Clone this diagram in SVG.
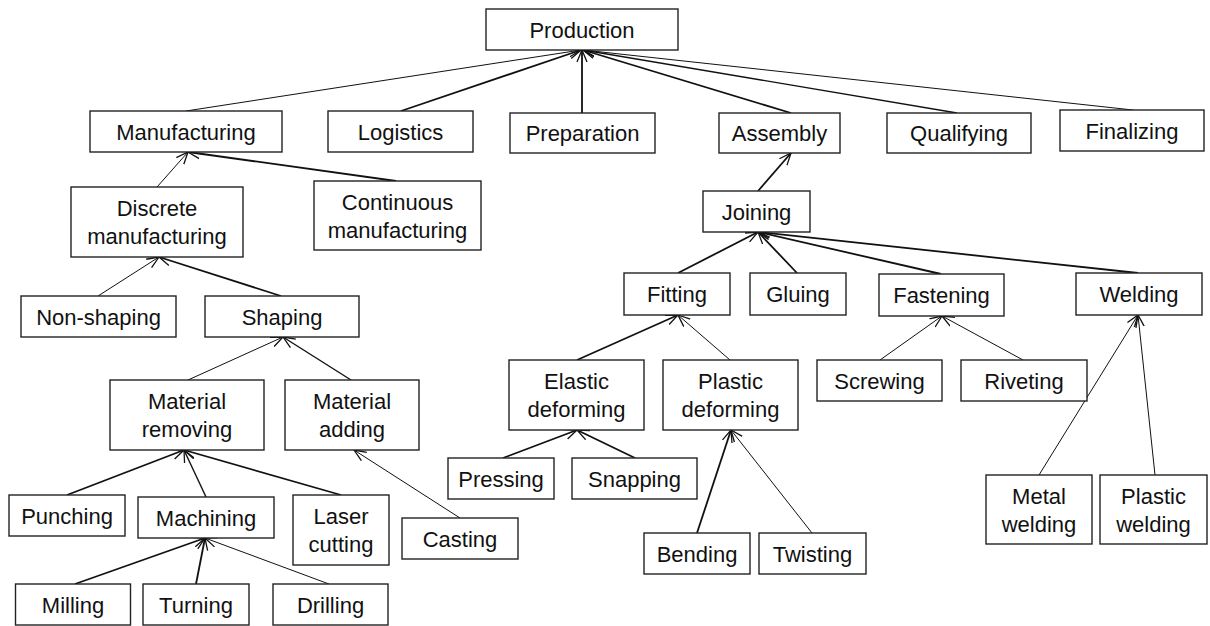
<svg xmlns="http://www.w3.org/2000/svg" width="1210" height="626" viewBox="0 0 1210 626">
  <style>
    .box rect { fill: #ffffff; stroke: #222222; stroke-width: 1.4; }
    .box text { font-family: "Liberation Sans", Arial, sans-serif; font-size: 22px; fill: #111111; text-anchor: middle; }
    .edge { fill: none; stroke: #111111; marker-end: url(#head); }
    .thin { stroke-width: 1; }
    .mid { stroke-width: 1.4; }
    .thick { stroke-width: 1.8; }
  </style>
  <defs>
    <marker id="head" markerUnits="userSpaceOnUse" markerWidth="16" markerHeight="14" refX="12" refY="6" orient="auto">
      <path d="M0,1 L12,6 L0,11" fill="none" stroke="#111111" stroke-width="1.3"/>
    </marker>
  </defs>
  <rect width="1210" height="626" fill="#ffffff"/>

  <!-- connectors: child top edge to parent bottom edge -->
  <g id="connectors">
    <line class="edge thin" x1="186" y1="111" x2="581" y2="50"/>
    <line class="edge thick" x1="401" y1="111" x2="581" y2="50"/>
    <line class="edge thick" x1="582" y1="113" x2="582" y2="50"/>
    <line class="edge thick" x1="791" y1="113" x2="583" y2="50"/>
    <line class="edge mid" x1="957" y1="113" x2="583" y2="50"/>
    <line class="edge thin" x1="1133" y1="110" x2="583" y2="50"/>
    <line class="edge thin" x1="157" y1="187" x2="188" y2="152"/>
    <line class="edge thick" x1="396" y1="181" x2="188" y2="152"/>
    <line class="edge thin" x1="98" y1="296" x2="159" y2="257"/>
    <line class="edge thick" x1="281" y1="296" x2="159" y2="257"/>
    <line class="edge thin" x1="188" y1="380" x2="283" y2="337"/>
    <line class="edge mid" x1="351" y1="380" x2="283" y2="337"/>
    <line class="edge thick" x1="67" y1="495" x2="184" y2="450"/>
    <line class="edge mid" x1="206" y1="497" x2="184" y2="450"/>
    <line class="edge thick" x1="341" y1="495" x2="184" y2="450"/>
    <line class="edge thin" x1="460" y1="518" x2="354" y2="450"/>
    <line class="edge thick" x1="75" y1="584" x2="205" y2="538"/>
    <line class="edge thick" x1="196" y1="584" x2="205" y2="538"/>
    <line class="edge thin" x1="329" y1="584" x2="205" y2="538"/>
    <line class="edge thick" x1="758" y1="191" x2="791" y2="153"/>
    <line class="edge thick" x1="678" y1="273" x2="758" y2="232"/>
    <line class="edge thick" x1="797" y1="273" x2="758" y2="232"/>
    <line class="edge thick" x1="941" y1="274" x2="758" y2="232"/>
    <line class="edge thick" x1="1138" y1="273" x2="758" y2="232"/>
    <line class="edge thick" x1="577" y1="360" x2="678" y2="315"/>
    <line class="edge thin" x1="730" y1="360" x2="678" y2="315"/>
    <line class="edge thin" x1="880" y1="360" x2="942" y2="316"/>
    <line class="edge thin" x1="1023" y1="360" x2="942" y2="316"/>
    <line class="edge thick" x1="503" y1="458" x2="577" y2="430"/>
    <line class="edge thick" x1="635" y1="458" x2="577" y2="430"/>
    <line class="edge thick" x1="697" y1="533" x2="731" y2="430"/>
    <line class="edge thin" x1="812" y1="533" x2="731" y2="430"/>
    <line class="edge thin" x1="1039" y1="475" x2="1138" y2="315"/>
    <line class="edge thin" x1="1155" y1="475" x2="1138" y2="315"/>
  </g>

  <!-- level 0 -->
  <g id="production" class="box"><rect x="486" y="9" width="192" height="41"/><text x="582" y="37.5">Production</text></g>

  <!-- level 1 -->
  <g id="manufacturing" class="box"><rect x="90" y="111" width="192" height="41"/><text x="186" y="139.5">Manufacturing</text></g>
  <g id="logistics" class="box"><rect x="328" y="111" width="145" height="41"/><text x="400.5" y="139.5">Logistics</text></g>
  <g id="preparation" class="box"><rect x="510" y="113" width="145" height="40"/><text x="582.5" y="141">Preparation</text></g>
  <g id="assembly" class="box"><rect x="719" y="113" width="121" height="40"/><text x="779.5" y="141">Assembly</text></g>
  <g id="qualifying" class="box"><rect x="887" y="113" width="144" height="40"/><text x="959" y="141">Qualifying</text></g>
  <g id="finalizing" class="box"><rect x="1060" y="110" width="144" height="41"/><text x="1132" y="138.5">Finalizing</text></g>

  <!-- manufacturing branch -->
  <g id="discrete-manufacturing" class="box"><rect x="71" y="187" width="172" height="70"/><text x="157" y="216">Discrete</text><text x="157" y="244">manufacturing</text></g>
  <g id="continuous-manufacturing" class="box"><rect x="314" y="181" width="167" height="69"/><text x="397.5" y="209.5">Continuous</text><text x="397.5" y="237.5">manufacturing</text></g>
  <g id="non-shaping" class="box"><rect x="21" y="296" width="155" height="41"/><text x="98.5" y="324.5">Non-shaping</text></g>
  <g id="shaping" class="box"><rect x="205" y="296" width="154" height="41"/><text x="282" y="324.5">Shaping</text></g>
  <g id="material-removing" class="box"><rect x="110" y="380" width="154" height="70"/><text x="187" y="409">Material</text><text x="187" y="437">removing</text></g>
  <g id="material-adding" class="box"><rect x="285" y="380" width="134" height="70"/><text x="352" y="409">Material</text><text x="352" y="437">adding</text></g>
  <g id="punching" class="box"><rect x="9" y="495" width="116" height="41"/><text x="67" y="523.5">Punching</text></g>
  <g id="machining" class="box"><rect x="138" y="497" width="136" height="41"/><text x="206" y="525.5">Machining</text></g>
  <g id="laser-cutting" class="box"><rect x="293" y="495" width="96" height="70"/><text x="341" y="524">Laser</text><text x="341" y="552">cutting</text></g>
  <g id="casting" class="box"><rect x="402" y="518" width="116" height="41"/><text x="460" y="546.5">Casting</text></g>
  <g id="milling" class="box"><rect x="15.5" y="584" width="115" height="41"/><text x="73" y="612.5">Milling</text></g>
  <g id="turning" class="box"><rect x="143" y="584" width="106" height="41"/><text x="196" y="612.5">Turning</text></g>
  <g id="drilling" class="box"><rect x="273" y="584" width="115" height="41"/><text x="330.5" y="612.5">Drilling</text></g>

  <!-- assembly branch -->
  <g id="joining" class="box"><rect x="703" y="191" width="107" height="41"/><text x="756.5" y="219.5">Joining</text></g>
  <g id="fitting" class="box"><rect x="624" y="273" width="106" height="42"/><text x="677" y="302">Fitting</text></g>
  <g id="gluing" class="box"><rect x="750" y="273" width="96" height="42"/><text x="798" y="302">Gluing</text></g>
  <g id="fastening" class="box"><rect x="879" y="274" width="125" height="42"/><text x="941.5" y="303">Fastening</text></g>
  <g id="welding" class="box"><rect x="1076" y="273" width="126" height="42"/><text x="1139" y="302">Welding</text></g>
  <g id="elastic-deforming" class="box"><rect x="509" y="360" width="135" height="70"/><text x="576.5" y="389">Elastic</text><text x="576.5" y="417">deforming</text></g>
  <g id="plastic-deforming" class="box"><rect x="663" y="360" width="135" height="70"/><text x="730.5" y="389">Plastic</text><text x="730.5" y="417">deforming</text></g>
  <g id="screwing" class="box"><rect x="817" y="360" width="125" height="41"/><text x="879.5" y="388.5">Screwing</text></g>
  <g id="riveting" class="box"><rect x="961" y="360" width="126" height="41"/><text x="1024" y="388.5">Riveting</text></g>
  <g id="pressing" class="box"><rect x="448" y="458" width="106" height="41"/><text x="501" y="486.5">Pressing</text></g>
  <g id="snapping" class="box"><rect x="572" y="458" width="125" height="41"/><text x="634.5" y="486.5">Snapping</text></g>
  <g id="bending" class="box"><rect x="644" y="533" width="106" height="41"/><text x="697" y="561.5">Bending</text></g>
  <g id="twisting" class="box"><rect x="759" y="533" width="107" height="41"/><text x="812.5" y="561.5">Twisting</text></g>
  <g id="metal-welding" class="box"><rect x="986" y="475" width="106" height="69"/><text x="1039" y="503.5">Metal</text><text x="1039" y="531.5">welding</text></g>
  <g id="plastic-welding" class="box"><rect x="1100" y="475" width="107" height="69"/><text x="1153.5" y="503.5">Plastic</text><text x="1153.5" y="531.5">welding</text></g>
</svg>
